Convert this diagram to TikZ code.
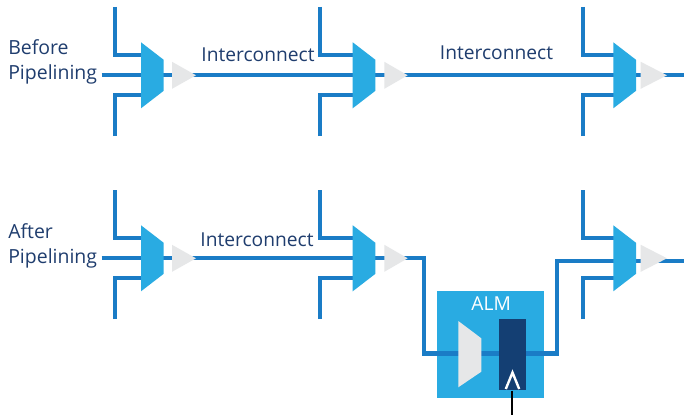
\documentclass[tikz,border=0pt]{standalone}
\usepackage{fontspec}
\setmainfont{Open Sans}
\usetikzlibrary{calc}
\definecolor{wire}{HTML}{1A7CC6}
\definecolor{muxblue}{HTML}{29ABE2}
\definecolor{pale}{HTML}{E6E7E8}
\definecolor{navy}{HTML}{143F73}
\definecolor{txt}{HTML}{1F3D6E}
\tikzset{
  wireline/.style={draw=wire,line width=3.2pt},
  muxshape/.style={fill=muxblue,draw=none},
  buf/.style={fill=pale,draw=none},
  lbl/.style={text=txt,font=\fontsize{14.4}{18}\selectfont,inner sep=0pt,anchor=base},
  side/.style={text=txt,font=\fontsize{14.6}{18.75}\selectfont,inner sep=0pt,align=left,anchor=west}
}
% name, mux left x, centre y, vertical wire x, triangle tip x
\newcommand{\muxcell}[5]{%
  \coordinate (#1) at (#2,#3);
  \coordinate (#1o) at (#5,#3);
  \coordinate (#1tt) at (#4,#3-68.3);
  \coordinate (#1t) at (#4,#3-20);
  \coordinate (#1bb) at (#4,#3+60.8);
  \coordinate (#1b) at (#4,#3+20);
  \draw[wireline] (#1tt) -- (#1t) -- ($(#1)+(2,-20)$);
  \draw[wireline] (#1bb) -- (#1b) -- ($(#1)+(2,20)$);
}
\newcommand{\muxtop}[2]{%
  \fill[muxshape] ($(#1)+(0,-33)$) -- ($(#1)+(22.7,-15.5)$) -- ($(#1)+(22.7,15.5)$) -- ($(#1)+(0,33)$) -- cycle;
  \fill[buf] ($(#1o)+(-#2,-13.5)$) -- (#1o) -- ($(#1o)+(-#2,13.5)$) -- cycle;
}
\begin{document}
\begin{tikzpicture}[x=0.75pt,y=-0.75pt]
\useasboundingbox (0,0) rectangle (684,417);
\fill[white] (0,0) rectangle (684,417);
\muxcell{a}{141}{75.3}{114.7}{196}
\muxcell{b}{352.7}{75.3}{320}{407.7}
\muxcell{c}{613.3}{75.3}{583}{667}
\muxcell{d}{141}{258.3}{114.7}{196}
\muxcell{e}{352.7}{258.3}{320}{407.7}
\muxcell{f}{613.3}{258.3}{583}{667}
\coordinate (inA) at (101.7,75.3);
\coordinate (inD) at (101.7,258.3);
\coordinate (endA) at (684,75.3);
\coordinate (endF) at (684,260.7);
\draw[wireline] (inA) -- (endA);
\draw[wireline] (inD) -- (eo);
% ALM box
\node[fill=muxblue,minimum width=80.25pt,minimum height=80.25pt,inner sep=0pt,anchor=north west] (alm) at (437,291) {};
\coordinate (ltop) at (424.3,258.3);
\coordinate (lbot) at (424.3,353.5);
\coordinate (rbot) at (556.8,353.5);
\coordinate (rtop) at (556.8,260.7);
\draw[wireline] (eo) -- (ltop) -- (lbot) -- (rbot) -- (rtop) -- (endF);
\fill[pale] (458.3,321) -- (481.3,338.3) -- (481.3,371.7) -- (458.3,387.3) -- cycle;
\node[fill=navy,minimum width=20.25pt,minimum height=53.25pt,inner sep=0pt,anchor=north west] (ff) at (499,319) {};
\draw[white,line width=1.8pt] (505.8,389) -- (512.5,372.5) -- (519.2,389);
\coordinate (clk) at (511.7,415);
\draw[black,line width=1.5pt] (clk|-ff.south) -- (clk);
\muxtop{a}{24}\muxtop{b}{23.4}\muxtop{c}{26.3}\muxtop{d}{24}\muxtop{e}{23.4}\muxtop{f}{26.3}
\node[lbl,text=white] (almt) at (491.2,310.7) {ALM};
\node[lbl] (i1) at (258,61.7) {Interconnect};
\node[lbl] (i2) at (496.5,60) {Interconnect};
\node[lbl] (i3) at (257,246) {Interconnect};
\node[side] (before) at (8,62) {Before\\Pipelining};
\node[side] (after) at (8,245.5) {After\\Pipelining};
\end{tikzpicture}
\end{document}
